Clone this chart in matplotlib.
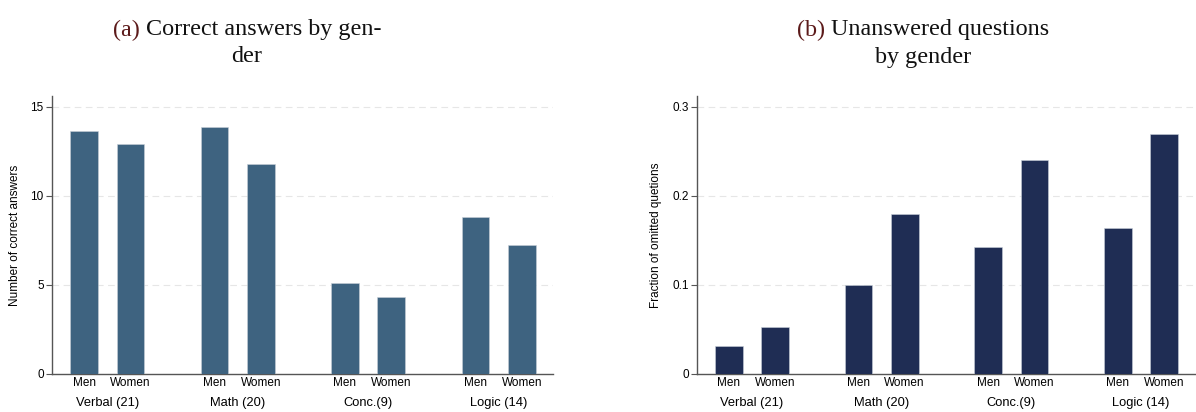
import numpy as np
import matplotlib
matplotlib.use("Agg")
import matplotlib.pyplot as plt

subjects = ["Verbal (21)", "Math (20)", "Conc.(9)", "Logic (14)"]
genders = ["Men", "Women"]
correct_men = [13.65, 13.88, 5.11, 8.82]
correct_women = [12.92, 11.80, 4.33, 7.25]
omit_men = [0.0315, 0.100, 0.1427, 0.1644]
omit_women = [0.053, 0.180, 0.2404, 0.2697]

plt.rcParams['font.family'] = ['Liberation Sans', 'DejaVu Sans']

fig = plt.figure(figsize=(11.96, 4.12), dpi=100)
W, H = 1196.0, 412.0

group_step = 2.81
pos = []
for g in range(len(subjects)):
    pos += [g * group_step, g * group_step + 1]
pos = np.array(pos)


def panel(left_px, right_px, men, women, color, ylab, ymax, yticks, yticklabels):
    ax = fig.add_axes([left_px / W, (H - 374) / H, (right_px - left_px) / W, (374 - 96) / H])
    vals = []
    for m, w in zip(men, women):
        vals += [m, w]
    ax.bar(pos, vals, width=0.6, color=color, edgecolor='#c8d0d8', linewidth=0.4, zorder=3)
    ax.set_xlim(-0.69, pos[-1] + 0.67)
    ax.set_ylim(0, ymax)
    ax.set_yticks(yticks)
    ax.set_yticklabels(yticklabels, fontsize=8.5)
    ax.yaxis.grid(True, linestyle=(0, (6, 4)), color='#e6e6e6', linewidth=0.8, zorder=0)
    ax.set_xticks(pos)
    ax.set_xticklabels(genders * len(subjects), fontsize=8.5)
    ax.tick_params(axis='x', length=0, pad=2.5)
    ax.tick_params(axis='y', length=4, width=0.8, color='#555555', pad=2)
    for s in ['top', 'right']:
        ax.spines[s].set_visible(False)
    for s in ['left', 'bottom']:
        ax.spines[s].set_color('#555555')
        ax.spines[s].set_linewidth(1.0)
    ax.set_ylabel(ylab, fontsize=8.5, labelpad=7)
    for g, name in enumerate(subjects):
        ax.text(g * group_step + 0.5, -0.105, name, transform=ax.get_xaxis_transform(),
                ha='center', va='center', fontsize=9.3)
    return ax


panel(52, 553, correct_men, correct_women, '#3e6380', 'Number of correct answers',
      15.6, [0, 5, 10, 15], ['0', '5', '10', '15'])
panel(697, 1195, omit_men, omit_women, '#1f2d54', 'Fraction of omitted quetions',
      0.312, [0, 0.1, 0.2, 0.3], ['0', '0.1', '0.2', '0.3'])

serif = ['Liberation Serif', 'DejaVu Serif']
tsize = 17.4


def title(cx, line1_tag, line1, line2):
    r = fig.canvas.get_renderer()
    t1 = fig.text(0, 0, line1_tag + ' ' + line1, fontsize=tsize, family=serif)
    full = t1.get_window_extent(r).width
    t1.remove()
    t2 = fig.text(0, 0, line1_tag + ' ', fontsize=tsize, family=serif)
    tw = t2.get_window_extent(r).width
    t2.remove()
    x0 = cx - full / 2
    fig.text(x0 / W, 1 - 30 / H, line1_tag, fontsize=tsize, family=serif,
             color='#5c1a1a', va='center', ha='left')
    fig.text((x0 + tw) / W, 1 - 30 / H, line1, fontsize=tsize, family=serif,
             color='#111111', va='center', ha='left')
    fig.text(cx / W, 1 - 57 / H, line2, fontsize=tsize, family=serif,
             color='#111111', va='center', ha='center')


fig.canvas.draw()
title(247, '(a)', 'Correct answers by gen-', 'der')
title(923, '(b)', 'Unanswered questions', 'by gender')

fig.savefig('out.png', dpi=100)
